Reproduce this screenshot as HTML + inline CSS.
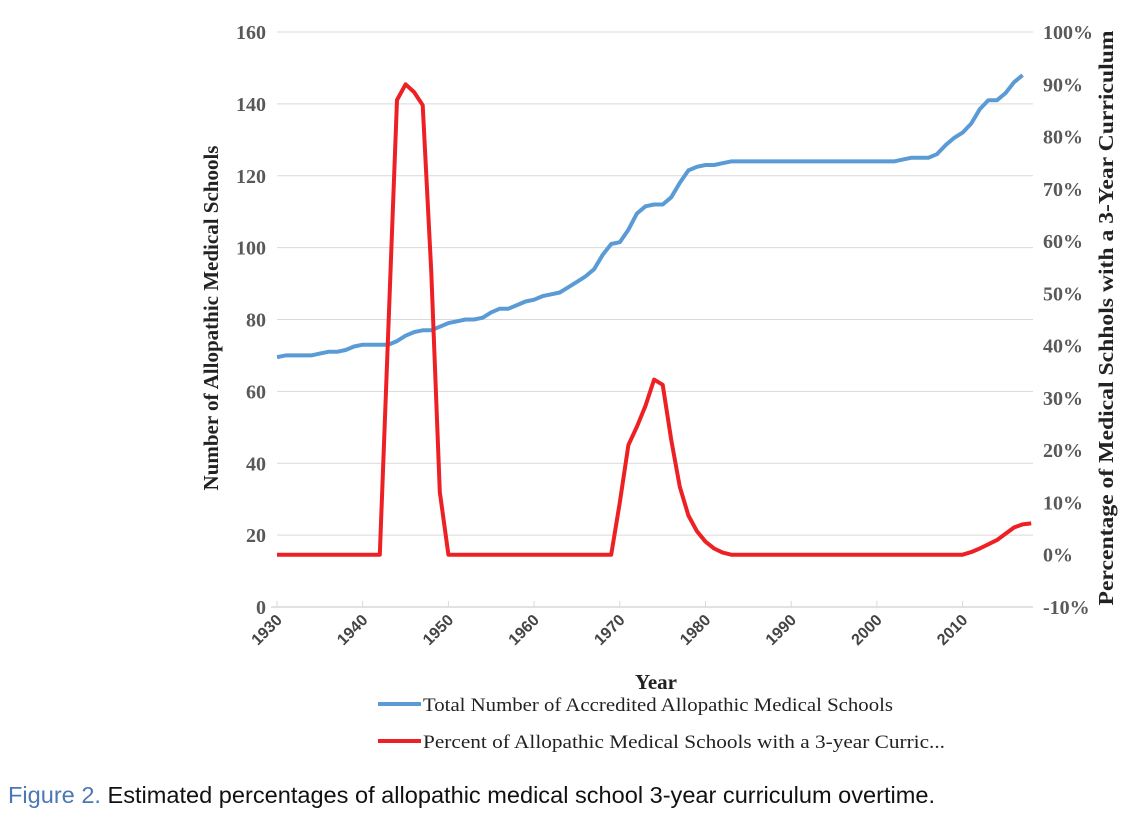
<!DOCTYPE html>
<html><head><meta charset="utf-8"><style>
html,body{margin:0;padding:0;background:#fff;}
svg{display:block;}
</style></head><body>
<svg id="chart" width="1131" height="820" xmlns="http://www.w3.org/2000/svg">
<g id="grid"></g>
<g id="axes"></g>
<g id="series"></g>
<text transform="translate(218,318) rotate(-90)" text-anchor="middle" font-family="Liberation Serif, serif" font-weight="bold" font-size="21" fill="#222">Number of Allopathic Medical Schools</text>
<text transform="translate(1113,318) rotate(-90)" text-anchor="middle" font-family="Liberation Serif, serif" font-weight="bold" font-size="21" fill="#222" textLength="575" lengthAdjust="spacingAndGlyphs">Percentage of  Medical Schhols with a 3-Year Curriculum</text>
<text x="656" y="689" text-anchor="middle" font-family="Liberation Serif, serif" font-weight="bold" font-size="21" fill="#222">Year</text>
<g>
<line x1="378" y1="704" x2="421" y2="704" stroke="#5b9bd5" stroke-width="4"/>
<text x="423" y="711" font-family="Liberation Serif, serif" font-size="19" fill="#222" textLength="470" lengthAdjust="spacingAndGlyphs">Total Number of Accredited Allopathic Medical Schools</text>
<line x1="378" y1="741" x2="421" y2="741" stroke="#ed2024" stroke-width="4"/>
<text x="423" y="748" font-family="Liberation Serif, serif" font-size="19" fill="#222" textLength="522" lengthAdjust="spacingAndGlyphs">Percent of Allopathic Medical Schools with a 3-year Curric...</text>
</g>
<text x="8" y="803" font-family="Liberation Sans, sans-serif" font-size="23" fill="#111" textLength="927" lengthAdjust="spacingAndGlyphs"><tspan fill="#4a78b5">Figure 2.</tspan> Estimated percentages of allopathic medical school 3-year curriculum overtime.</text>
</svg>
<script>
const years = [];
for (let y = 1930; y <= 2017; y++) years.push(y);
const total1930s = [69.5,70,70,70,70,70.5,71,71,71.5,72.5];
const total1940s = [73,73,73,73,74,75.5,76.5,77,77,78];
const total1950s = [79,79.5,80,80,80.5,82,83,83,84,85];
const total1960s = [85.5,86.5,87,87.5,89,90.5,92,94,98,101];
const total1970s = [101.5,105,109.5,111.5,112,112,114,118,121.5,122.5];
const total1980s = [123,123,123.5,124,124,124,124,124,124,124];
const total1990s = [124,124,124,124,124,124,124,124,124,124];
const total2000s = [124,124,124,124.5,125,125,125,126,128.5,130.5];
const total2010s = [132,134.5,138.5,141,141,143,146,148];
const totalSchools = [].concat(total1930s,total1940s,total1950s,total1960s,total1970s,total1980s,total1990s,total2000s,total2010s);
const pctYears = [1930,1942,1944,1945,1946,1947,1948,1949,1950,1969,1970,1971,1972,1973,1974,1975,1976,1977,1978,1979,1980,1981,1982,1983,2010,2011,2012,2013,2014,2015,2016,2017,2018];
const pctValues = [0,0,87,90,88.5,86,54,12,0,0,10,21,24.5,28.5,33.5,32.5,22,13,7.5,4.5,2.5,1.2,0.4,0,0,0.5,1.2,2,2.8,4,5.2,5.8,6];
const leftTicks = [0,20,40,60,80,100,120,140,160];
const rightTicks = [-10,0,10,20,30,40,50,60,70,80,90,100];
const xTicks = [1930,1940,1950,1960,1970,1980,1990,2000,2010];

const X0=277, PXY=8.57, Y0=607, Y1=32;
const xs = y => X0 + (y-1930)*PXY;
const yl = v => Y0 - (v/160)*(Y0-Y1);
const yr = p => Y0 - ((p+10)/110)*(Y0-Y1);
const NS="http://www.w3.org/2000/svg";
function mk(tag, attrs, parent, txt){const e=document.createElementNS(NS,tag);for(const k in attrs)e.setAttribute(k,attrs[k]);if(txt!==undefined)e.textContent=txt;parent.appendChild(e);return e;}
const grid=document.getElementById('grid'), axes=document.getElementById('axes'), series=document.getElementById('series');
const XEND=1033;
leftTicks.forEach(v=>{
  if(v>0){const g=mk('line',{x1:X0,x2:XEND,y1:yl(v),y2:yl(v),stroke:'#d9d9d9','stroke-width':1},grid);
  
  }
  const t=mk('text',{x:266,y:yl(v)+7,'text-anchor':'end','font-family':'Liberation Serif, serif','font-weight':'bold','font-size':20,fill:'#595959'},axes,String(v));
  
  
});
rightTicks.forEach(p=>{
  const t=mk('text',{x:1043,y:yr(p)+7,'font-family':'Liberation Serif, serif','font-weight':'bold','font-size':20,fill:'#595959'},axes,p+'%');
  
  
});
const ax=mk('line',{x1:X0-6,x2:XEND,y1:Y0,y2:Y0,stroke:'#d9d9d9','stroke-width':1.5},axes);


xTicks.forEach(y=>{
  const tk=mk('line',{x1:xs(y),x2:xs(y),y1:Y0,y2:Y0-6,stroke:'#d9d9d9','stroke-width':1},axes);
  
  
  const t=mk('text',{transform:`translate(${xs(y)+6},${Y0+14}) rotate(-45)`,'text-anchor':'end','font-family':'Liberation Sans, sans-serif','font-weight':'bold','font-size':16,fill:'#444'},axes,String(y));
  
  
});
const bp=years.map((y,i)=>(i?'L':'M')+xs(y).toFixed(1)+','+yl(totalSchools[i]).toFixed(1)).join(' ');
const b=mk('path',{d:bp,fill:'none',stroke:'#5b9bd5','stroke-width':4,'stroke-linejoin':'round'},series);


const rp=pctYears.map((y,i)=>(i?'L':'M')+xs(y).toFixed(1)+','+yr(pctValues[i]).toFixed(1)).join(' ');
const r=mk('path',{d:rp,fill:'none',stroke:'#ed2024','stroke-width':4,'stroke-linejoin':'round'},series);


</script>
</body></html>
